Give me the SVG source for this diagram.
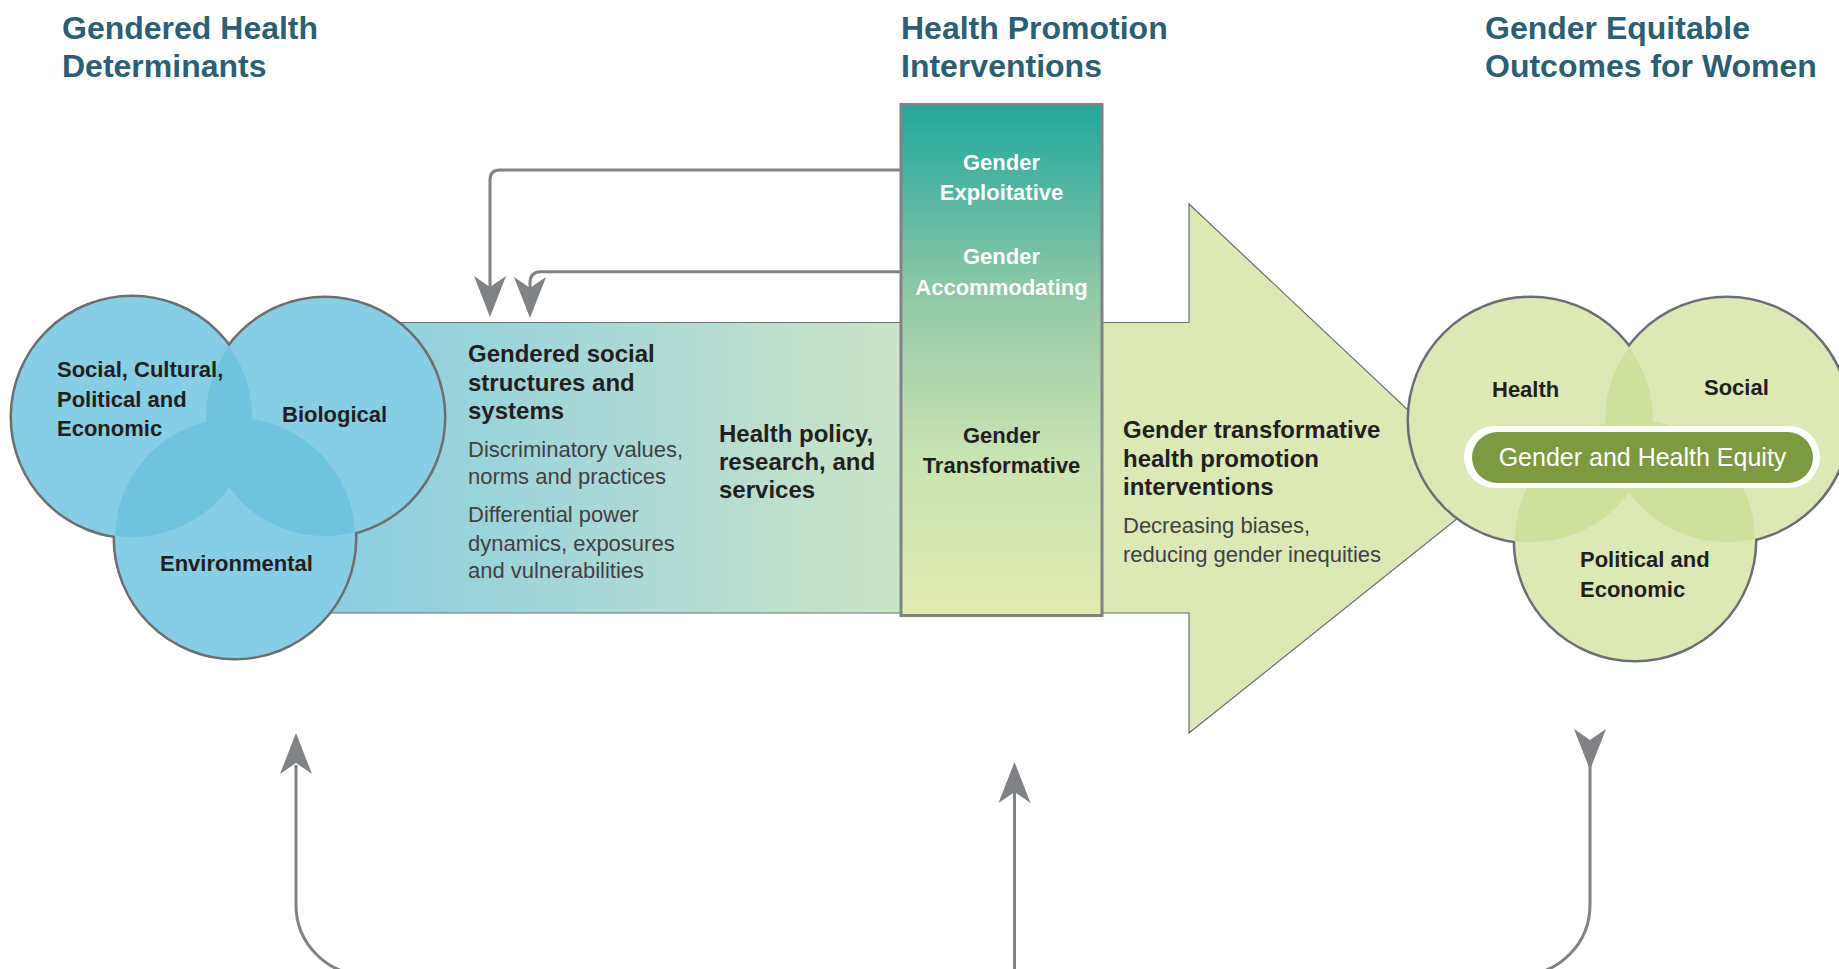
<svg xmlns="http://www.w3.org/2000/svg" xmlns:xlink="http://www.w3.org/1999/xlink" width="1839" height="969" viewBox="0 0 1839 969">
<style>
.title{font-family:"Liberation Sans",Arial,sans-serif;font-weight:bold;font-size:32px;fill:#2d5f73}
.b{font-family:"Liberation Sans",Arial,sans-serif;font-weight:bold;font-size:22px;fill:#231f20}
.h{font-family:"Liberation Sans",Arial,sans-serif;font-weight:bold;font-size:24px;fill:#231f20}
.r{font-family:"Liberation Sans",Arial,sans-serif;font-size:22px;fill:#414042}
.w{font-family:"Liberation Sans",Arial,sans-serif;font-weight:bold;font-size:22px;fill:#ffffff}
.conn{fill:none;stroke:#808285;stroke-width:3}
.ah{fill:#808285}
</style>
<defs>
<linearGradient id="bandG" gradientUnits="userSpaceOnUse" x1="300" y1="0" x2="1500" y2="0">
<stop offset="0" stop-color="#86cde2"/>
<stop offset="0.333" stop-color="#b4dbd2"/>
<stop offset="0.5" stop-color="#cae5c7"/>
<stop offset="0.671" stop-color="#dce8b6"/>
<stop offset="1" stop-color="#dce8b5"/>
</linearGradient>
<linearGradient id="rectG" gradientUnits="userSpaceOnUse" x1="0" y1="105" x2="0" y2="615">
<stop offset="0" stop-color="#21a89b"/>
<stop offset="0.2" stop-color="#5db8a1"/>
<stop offset="0.4" stop-color="#98cba8"/>
<stop offset="0.7" stop-color="#cbe3b3"/>
<stop offset="1" stop-color="#e2ebb1"/>
</linearGradient>
<path id="ah" d="M0,0 L-16,-41 L0,-30 L16,-41 Z"/>
<clipPath id="cA"><circle cx="132" cy="417" r="120"/></clipPath>
<clipPath id="cB"><circle cx="325" cy="417" r="119"/></clipPath>
<clipPath id="cH"><circle cx="1531" cy="420" r="122"/></clipPath>
<clipPath id="cS"><circle cx="1727" cy="420" r="122"/></clipPath>
</defs>

<g id="titles">
<text class="title" x="62" y="39">Gendered Health</text>
<text class="title" x="62" y="77">Determinants</text>
<text class="title" x="901" y="39">Health Promotion</text>
<text class="title" x="901" y="77">Interventions</text>
<text class="title" x="1485" y="39">Gender Equitable</text>
<text class="title" x="1485" y="77">Outcomes for Women</text>
</g>

<g id="main-arrow">
<polygon points="300,322.5 1189,322.5 1189,204 1493,490 1189,733 1189,613 300,613" fill="url(#bandG)" stroke="#6d6e71" stroke-width="1.2"/>
<text class="h" x="468" y="362">Gendered social</text>
<text class="h" x="468" y="391">structures and</text>
<text class="h" x="468" y="419">systems</text>
<text class="r" x="468" y="457">Discriminatory values,</text>
<text class="r" x="468" y="484">norms and practices</text>
<text class="r" x="468" y="522">Differential power</text>
<text class="r" x="468" y="551">dynamics, exposures</text>
<text class="r" x="468" y="578">and vulnerabilities</text>
<text class="h" x="719" y="442">Health policy,</text>
<text class="h" x="719" y="470">research, and</text>
<text class="h" x="719" y="498">services</text>
<text class="h" x="1123" y="438">Gender transformative</text>
<text class="h" x="1123" y="467">health promotion</text>
<text class="h" x="1123" y="495">interventions</text>
<text class="r" x="1123" y="533">Decreasing biases,</text>
<text class="r" x="1123" y="562">reducing gender inequities</text>
</g>

<g id="interventions">
<rect x="901" y="104.5" width="201" height="511" fill="url(#rectG)" stroke="#808285" stroke-width="3"/>
<text class="w" x="1001.5" y="170" text-anchor="middle">Gender</text>
<text class="w" x="1001.5" y="200" text-anchor="middle">Exploitative</text>
<text class="w" x="1001.5" y="264" text-anchor="middle">Gender</text>
<text class="w" x="1001.5" y="295" text-anchor="middle">Accommodating</text>
<text class="b" x="1001.5" y="443" text-anchor="middle">Gender</text>
<text class="b" x="1001.5" y="473" text-anchor="middle">Transformative</text>
</g>

<g id="determinants">
<g stroke="#6d6e71" stroke-width="5" fill="#87cde3">
<circle cx="132" cy="417" r="120"/>
<circle cx="325" cy="417" r="119"/>
<circle cx="235" cy="538" r="120"/>
</g>
<g fill="#87cde3">
<circle cx="132" cy="417" r="120"/>
<circle cx="325" cy="417" r="119"/>
<circle cx="235" cy="538" r="120"/>
</g>
<g opacity="0.4" fill="#4fb5d3">
<circle cx="325" cy="417" r="119" clip-path="url(#cA)"/>
<circle cx="235" cy="538" r="120" clip-path="url(#cA)"/>
<circle cx="235" cy="538" r="120" clip-path="url(#cB)"/>
</g>
<text class="b" x="57" y="377">Social, Cultural,</text>
<text class="b" x="57" y="407">Political and</text>
<text class="b" x="57" y="436">Economic</text>
<text class="b" x="282" y="422">Biological</text>
<text class="b" x="160" y="571">Environmental</text>
</g>

<g id="outcomes">
<g stroke="#6d6e71" stroke-width="5" fill="#dce9b6">
<circle cx="1531" cy="420" r="122"/>
<circle cx="1727" cy="420" r="122"/>
<circle cx="1635" cy="540" r="120"/>
</g>
<g fill="#dce9b6">
<circle cx="1531" cy="420" r="122"/>
<circle cx="1727" cy="420" r="122"/>
<circle cx="1635" cy="540" r="120"/>
</g>
<g opacity="0.4" fill="#bed37a">
<circle cx="1727" cy="420" r="122" clip-path="url(#cH)"/>
<circle cx="1635" cy="540" r="120" clip-path="url(#cH)"/>
<circle cx="1635" cy="540" r="120" clip-path="url(#cS)"/>
</g>
<text class="b" x="1492" y="397">Health</text>
<text class="b" x="1704" y="395">Social</text>
<text class="b" x="1580" y="567">Political and</text>
<text class="b" x="1580" y="597">Economic</text>
<g id="equity">
<rect x="1464" y="426" width="356" height="62" rx="31" fill="#ffffff"/>
<rect x="1472" y="432" width="341" height="51" rx="25.5" fill="#7e9a41"/>
<text x="1642.5" y="466" text-anchor="middle" font-family="Liberation Sans, Arial, sans-serif" font-size="25" fill="#ffffff">Gender and Health Equity</text>
</g>
</g>

<g id="connectors">
<path class="conn" d="M901,170 H500 Q490,170 490,180 V290"/>
<use href="#ah" class="ah" transform="translate(490,317)"/>
<path class="conn" d="M901,271.7 H541 Q530,271.7 530,283 V290"/>
<use href="#ah" class="ah" transform="translate(530,318)"/>
<path class="conn" d="M296,765 V905 A70,70 0 0 0 366,975 H1520 A70,70 0 0 0 1590,905 V760"/>
<use href="#ah" class="ah" transform="translate(296,733) rotate(180)"/>
<path class="conn" d="M1014.5,975 V792"/>
<use href="#ah" class="ah" transform="translate(1014.5,762) rotate(180)"/>
<use href="#ah" class="ah" transform="translate(1590,770)"/>
</g>
</svg>
